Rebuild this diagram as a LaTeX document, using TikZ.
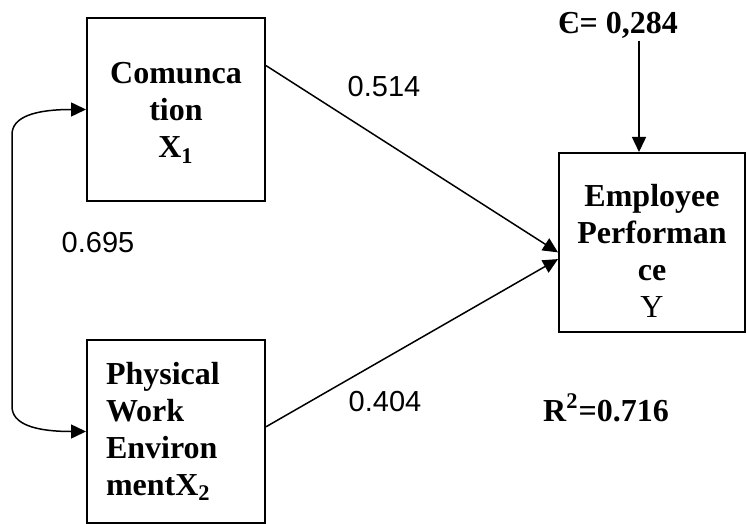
\documentclass[tikz,border=0pt]{standalone}
\usepackage{fontspec}
\setmainfont{Liberation Serif}
\setsansfont{Liberation Sans}
\usepackage{tikz}
\usetikzlibrary{positioning, arrows.meta, calc}

\begin{document}
\begin{tikzpicture}[
  x=0.5pt, y=-0.5pt,
  font=\bfseries\fontsize{16}{18.5}\selectfont,
  var/.style={draw, line width=1pt, minimum width=89pt, minimum height=91.5pt,
    inner sep=0pt, align=center},
  coef/.style={font=\sffamily\mdseries\fontsize{14.5}{17}\selectfont},
  arr/.style={line width=0.75pt, -{Triangle[length=7.5pt, width=7pt]}},
  corr/.style={line width=0.75pt, {Triangle[length=7.5pt, width=7pt]}-{Triangle[length=7.5pt, width=7pt]}},
]
  \useasboundingbox (0,0) rectangle (747,523);

  % Latent variables
  \node[var] (com) at (176,109.5) {\rule{0pt}{14pt}Comunca\\ tion\\ X\textsubscript{1}};
  \node[var, text width=70pt, align=left] (env) at (176,431.5)
    {Physical\\ Work\\ Environ\\ mentX\textsubscript{2}};
  \node[var, minimum width=93pt, minimum height=89.5pt] (perf) at (652,242.5)
    {\rule{0pt}{19pt}Employee\\ Performan\\ ce\\ \mdseries Y};

  % Error term and R square
  \node[inner sep=1pt] (err) at (618,25) {Є= 0,284};
  \node (rsq) at (606,408) {R\textsuperscript{2}=0.716};

  % Path coefficients
  \node[coef] (p1) at (384,87) {0.514};
  \node[coef] (p2) at (385,402) {0.404};
  \node[coef] (r12) at (98,243) {0.695};

  % Paths
  \draw[arr] (com.26) -- (perf.186);
  \draw[arr] (env.3) -- (perf.190);
  \coordinate (errIn) at ($(perf.north)+(-13,0)$);
  \draw[arr] (err.south -| errIn) -- (errIn);

  % Correlation X1 <-> X2
  \draw[corr] (com.west) .. controls +(-50,0) and +(0,-18) .. ($(com.west)+(-74,25)$)
    -- ($(env.west)+(-74,-25)$) .. controls +(0,18) and +(-50,0) .. (env.west);
\end{tikzpicture}
\end{document}
